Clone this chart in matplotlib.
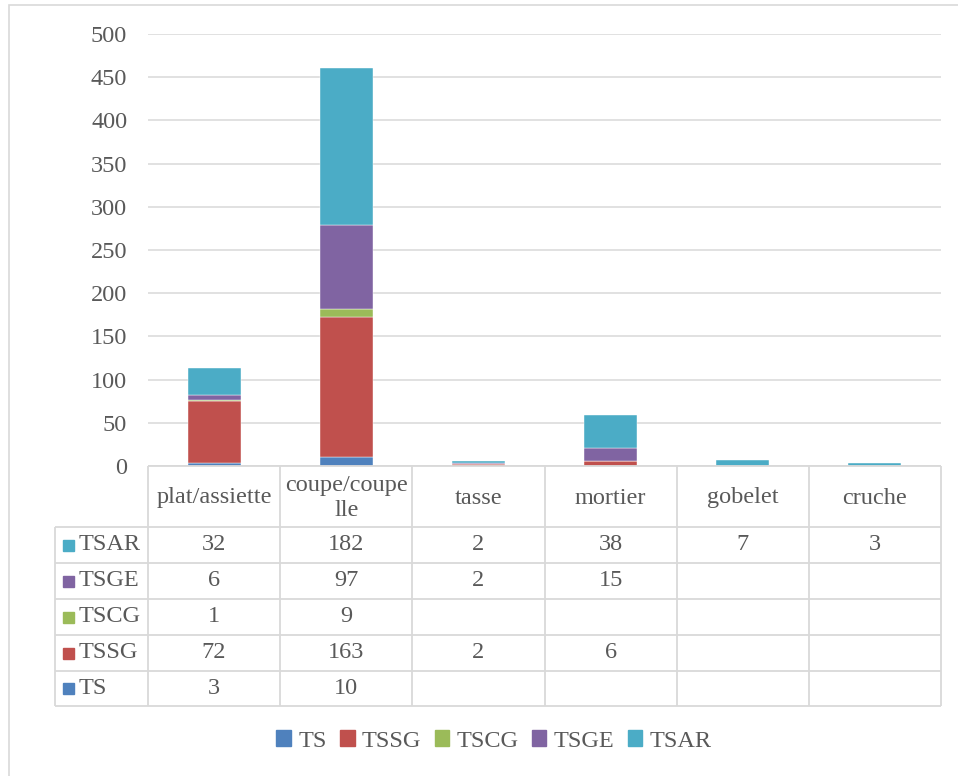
import numpy as np
import matplotlib
matplotlib.use("Agg")
import matplotlib.pyplot as plt
from matplotlib.patches import Rectangle, Patch

categories = ["plat/assiette", "coupe/coupe\nlle", "tasse", "mortier", "gobelet", "cruche"]
series_names = ["TS", "TSSG", "TSCG", "TSGE", "TSAR"]
ts = [3, 10, None, None, None, None]
tssg = [72, 163, 2, 6, None, None]
tscg = [1, 9, None, None, None, None]
tsge = [6, 97, 2, 15, None, None]
tsar = [32, 182, 2, 38, 7, 3]
yticks = [0, 50, 100, 150, 200, 250, 300, 350, 400, 450, 500]

colors = ["#4F81BD", "#C0504D", "#9BBB59", "#8064A2", "#4BACC6"]
series = [ts, tssg, tscg, tsge, tsar]
text_col = "#595959"
grid_col = "#D9D9D9"
fs = 17.5

plt.rcParams["font.family"] = ["Liberation Serif", "DejaVu Serif"]

W, H = 958, 776
fig = plt.figure(figsize=(W / 100, H / 100), dpi=100)


def box(x0, y0, x1, y1):
    # pixel box (top-left origin) -> figure fractions
    return [x0 / W, 1 - y1 / H, (x1 - x0) / W, (y1 - y0) / H]


# outer frame of the chart
fig.patches.append(Rectangle((9 / W, -0.1), 1.2, 1 - 5 / H + 0.1, transform=fig.transFigure,
                             fill=False, edgecolor=grid_col, lw=1.2))

# plot area
ax = fig.add_axes(box(148, 34, 941, 466))
x = np.arange(len(categories))
bottom = np.zeros(len(categories))
for name, vals, c in zip(series_names, series, colors):
    v = np.array([0 if a is None else a for a in vals], dtype=float)
    ax.bar(x, v, 0.4, bottom=bottom, color=c, edgecolor="white", linewidth=0.3, zorder=3)
    bottom += v

ax.set_xlim(-0.5, len(categories) - 0.5)
ax.set_ylim(0, 500)
ax.set_yticks(yticks)
ax.set_yticklabels([str(t) for t in yticks])
ax.set_xticks([])
ax.tick_params(axis="y", length=0, pad=15, labelsize=fs, labelcolor=text_col)
ax.grid(axis="y", color=grid_col, lw=1.1, zorder=0)
for s in ["top", "right", "left", "bottom"]:
    ax.spines[s].set_visible(False)

# data table under the bars
tab = fig.add_axes(box(148, 466, 941, 706))
tab.set_xlim(-0.5, len(categories) - 0.5)
tab.set_ylim(706, 466)
tab.axis("off")
col_w = (941 - 148) / len(categories)
left_edge = -0.5 - (148 - 55) / col_w
row_lines = [527, 563, 599, 635, 671, 706]
lk = dict(color=grid_col, lw=1.3, clip_on=False, solid_capstyle="butt")

tab.plot([-0.5, len(categories) - 0.5], [466, 466], **lk)
for xb in np.arange(len(categories) + 1) - 0.5:
    tab.plot([xb, xb], [466, 706], **lk)
for yl in row_lines:
    tab.plot([left_edge, len(categories) - 0.5], [yl, yl], **lk)
tab.plot([left_edge, left_edge], [527, 706], **lk)

for i, cat in enumerate(categories):
    tab.text(i, 498, cat, ha="center", va="center", fontsize=fs, color=text_col,
             linespacing=1.3, clip_on=False)

# rows top-down: TSAR ... TS
for r, k in enumerate(range(len(series_names) - 1, -1, -1)):
    yc = (row_lines[r] + row_lines[r + 1]) / 2
    tab.add_patch(Rectangle((left_edge + 8 / col_w, yc - 5.5), 11 / col_w, 11,
                            color=colors[k], clip_on=False))
    tab.text(left_edge + 24 / col_w, yc, series_names[k], ha="left", va="center",
             fontsize=fs, color=text_col, clip_on=False)
    for i, v in enumerate(series[k]):
        if v is not None:
            tab.text(i, yc, str(v), ha="center", va="center", fontsize=fs, color=text_col)

# legend
handles = [Patch(color=c, label=n) for n, c in zip(series_names, colors)]
fig.legend(handles=handles, loc="center", bbox_to_anchor=(494 / W, 1 - 741 / H), ncol=5,
           frameon=False, fontsize=fs, handlelength=0.6, handleheight=0.6,
           handletextpad=0.3, columnspacing=0.55, labelcolor=text_col)

fig.savefig("out.png", dpi=100)
